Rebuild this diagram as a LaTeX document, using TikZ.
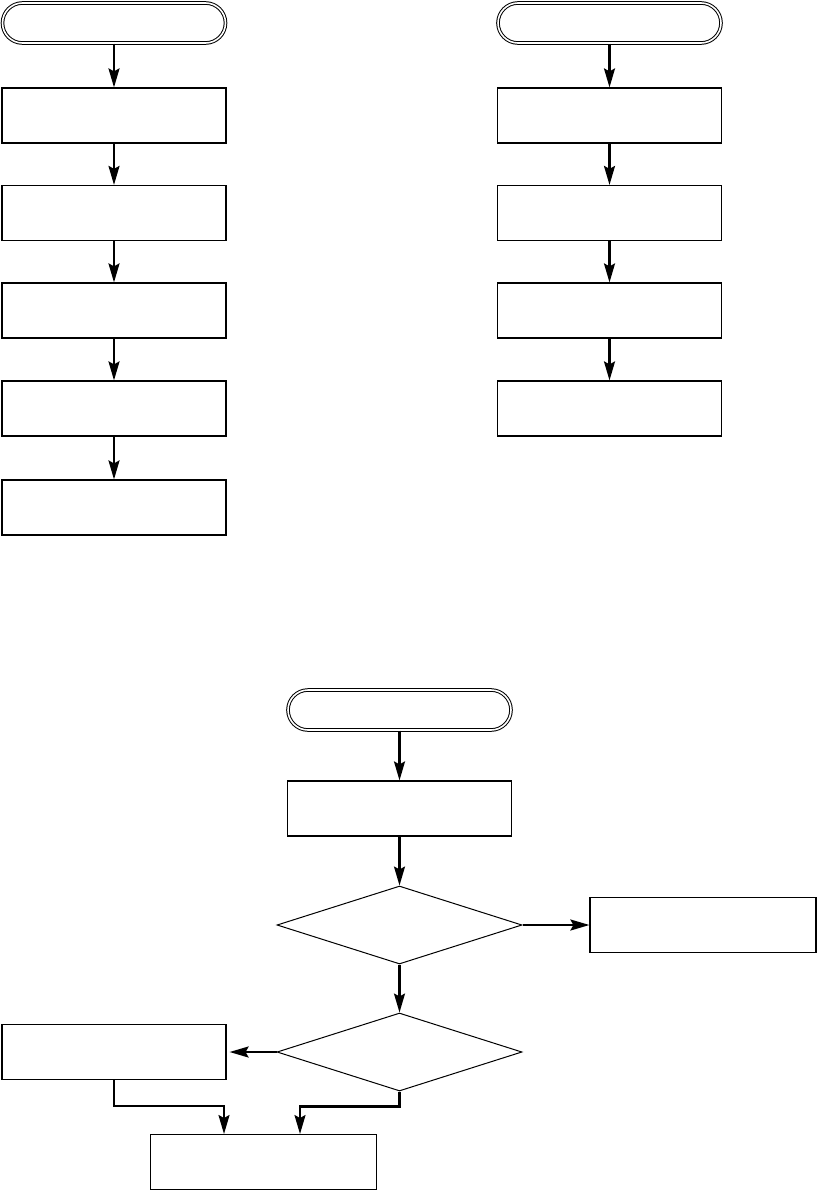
\documentclass[tikz,border=0pt]{standalone}
\usetikzlibrary{shapes.geometric,shapes.misc,arrows.meta}

\tikzset{
    blok/.style = {draw, line width = 1.2pt, minimum width = 224pt, minimum height = 55pt, inner sep = 0pt},
    nachalo/.style = {rounded rectangle, draw, line width = 1pt, double, double distance = 1.6pt, minimum width = 223pt, minimum height = 40pt, inner sep = 0pt},
    romb/.style = {diamond, draw, line width = 1pt, minimum width = 245pt, minimum height = 78pt, inner sep = 0pt},
    strelka/.style = {line width = 2.2pt, -{Stealth[length = 19pt, width = 11pt, inset = 3pt]}}
}

\begin{document}
\begin{tikzpicture}[x = 1pt, y = -1pt]
        \useasboundingbox ( 0, 0 ) rectangle ( 817, 1191 );

        % координаты столбцов
        \def \Lx { 114 };
        \def \Rx { 609.5 };
        \def \Mx { 399.5 };

        % левый столбец
        \node [nachalo] (nl) at ( \Lx, 23 ) {};
        \foreach \i/\y in {1/115.5, 2/213, 3/310.5, 4/408.5, 5/507.5}
            \node [blok] (l\i) at ( \Lx, \y ) {};
        \draw [strelka] (nl) -- (l1);
        \foreach \i/\j in {1/2, 2/3, 3/4, 4/5}
            \draw [strelka] (l\i) -- (l\j);

        % правый столбец
        \node [nachalo] (nr) at ( \Rx, 23 ) {};
        \foreach \i/\y in {1/115.5, 2/213, 3/310.5, 4/408.5}
            \node [blok] (r\i) at ( \Rx, \y ) {};
        \draw [strelka] (nr) -- (r1);
        \foreach \i/\j in {1/2, 2/3, 3/4}
            \draw [strelka] (r\i) -- (r\j);

        % нижняя схема
        \node [nachalo] (nm) at ( \Mx, 710 ) {};
        \node [blok] (m1) at ( \Mx, 808.5 ) {};
        \node [romb] (u1) at ( \Mx, 925 ) {};
        \node [blok, minimum width = 226pt] (da) at ( 703, 925 ) {};
        \node [romb] (u2) at ( \Mx, 1052 ) {};
        \node [blok] (net) at ( \Lx, 1052 ) {};
        \node [blok, minimum width = 226pt] (kon) at ( 263.5, 1162 ) {};

        % входы в последний блок
        \coordinate (vA) at ( 224, 1134 );
        \coordinate (vB) at ( 300, 1134 );

        % стрелки
        \draw [strelka] (nm) -- (m1);
        \draw [strelka] (m1) -- (u1);
        \draw [strelka] (u1.east) -- (da.west);
        \draw [strelka] (u1.south) -- (u2.north);
        \draw [strelka, shorten > = 3pt] (u2.west) -- (net.east);
        \draw [strelka] (net.south) -- ++( 0, 26 ) -| (vA);
        \draw [strelka] (u2.south) -- ++( 0, 15 ) -| (vB);
    \end{tikzpicture}
\end{document}
